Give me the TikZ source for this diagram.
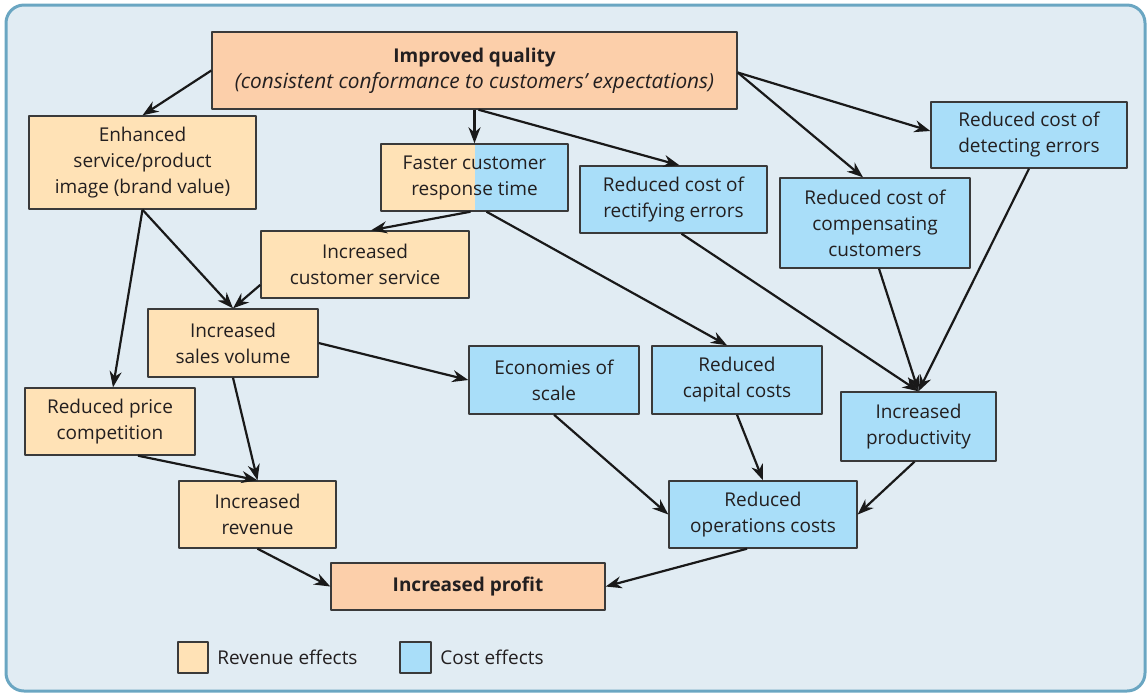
\documentclass[tikz,border=0pt]{standalone}
\usepackage{fontspec}
\setmainfont{Open Sans}
\usetikzlibrary{arrows.meta}
\definecolor{framefill}{HTML}{E1ECF3}
\definecolor{frameline}{HTML}{6AA6C2}
\definecolor{keyfill}{HTML}{FCCFAA}
\definecolor{revfill}{HTML}{FFE2B6}
\definecolor{costfill}{HTML}{A9DEF9}
\definecolor{boxline}{HTML}{3A3A3A}
\definecolor{txt}{HTML}{231F20}
\tikzset{
  every picture/.style={line join=round, >={Stealth[length=8pt,width=6pt]}},
  box/.style={draw=boxline, line width=0.7pt, align=center, text=txt,
    font=\fontsize{9.5}{13}\selectfont, inner sep=0pt},
  keybox/.style={box, fill=keyfill},
  revbox/.style={box, fill=revfill},
  costbox/.style={box, fill=costfill},
  halfbox/.style={box, fill=revfill, path picture={
    \fill[costfill] (path picture bounding box.north) rectangle (path picture bounding box.south east);}},
  link/.style={->, line width=1.1pt, draw=black!90},
}
\begin{document}
\begin{tikzpicture}[x=0.5pt,y=-0.5pt]
\useasboundingbox (0,0) rectangle (1147,693);
\draw[fill=framefill, draw=frameline, line width=1.5pt, rounded corners=9pt] (6,5) rectangle (1145,691);
% boxes
\node[keybox, minimum width=262.5pt, minimum height=38.5pt] (quality) at (474.5,70.5)
  {\textbf{Improved quality}\\{\fontsize{10.4}{13}\selectfont\itshape (consistent conformance to customers' expectations)}};
\node[revbox, minimum width=113.5pt, minimum height=46.5pt] (brand) at (142.5,162.5)
  {Enhanced\\service/product\\image (brand value)};
\node[halfbox, minimum width=93.5pt, minimum height=33.5pt] (response) at (474.5,177.5)
  {Faster customer\\response time};
\node[costbox, minimum width=93.5pt, minimum height=33.5pt] (rectify) at (673.5,199.5)
  {Reduced cost of\\rectifying errors};
\node[costbox, minimum width=98pt, minimum height=33pt] (detect) at (1029,135)
  {Reduced cost of\\detecting errors};
\node[costbox, minimum width=95pt, minimum height=45pt] (compensate) at (875,223)
  {Reduced cost of\\compensating\\customers};
\node[revbox, minimum width=104pt, minimum height=33.5pt] (service) at (365,264.5)
  {Increased\\customer service};
\node[revbox, minimum width=85pt, minimum height=34pt] (sales) at (233,343)
  {Increased\\sales volume};
\node[costbox, minimum width=85pt, minimum height=34pt] (scale) at (554,380)
  {Economies of\\scale};
\node[costbox, minimum width=85pt, minimum height=34pt] (capital) at (737,380)
  {Reduced\\capital costs};
\node[costbox, minimum width=77.5pt, minimum height=34.5pt] (productivity) at (918.5,426.5)
  {Increased\\productivity};
\node[revbox, minimum width=85pt, minimum height=33.5pt] (price) at (110,421.5)
  {Reduced price\\competition};
\node[revbox, minimum width=78.5pt, minimum height=33.5pt] (revenue) at (257.5,514.5)
  {Increased\\revenue};
\node[costbox, minimum width=94pt, minimum height=33.5pt] (operations) at (763,514.5)
  {Reduced\\operations costs};
\node[keybox, minimum width=137pt, minimum height=23.5pt] (profit) at (468,586.5)
  {\textbf{Increased profit}};
% links
\draw[link] (quality.west) -- (brand.north);
\draw[link] (quality.south) -- (response.north);
\draw[link] ([xshift=2pt]quality.south) -- ([xshift=3pt]rectify.north);
\draw[link] ([yshift=-1pt]quality.east) -- ([xshift=-6pt]compensate.north);
\draw[link] ([yshift=-1pt]quality.east) -- ([yshift=2pt]detect.west);
\draw[link] (brand.south) -- (sales.north);
\draw[link] (brand.south) -- ([xshift=1.5pt]price.north);
\draw[link] ([xshift=-2pt]response.south) -- ([xshift=3pt]service.north);
\draw[link] ([xshift=6pt]response.south) -- ([xshift=-5pt]capital.north);
\draw[link] (service.191) -- (sales.north);
\draw[link] (sales.east) -- (scale.west);
\draw[link] (sales.south) -- (revenue.north);
\draw[link] ([xshift=14pt]price.south) -- (revenue.north);
\draw[link] ([xshift=4pt]rectify.south) -- (productivity.north);
\draw[link] ([xshift=2pt]compensate.south) -- (productivity.north);
\draw[link] (detect.south) -- (productivity.north);
\draw[link] (scale.south) -- (operations.west);
\draw[link] (capital.south) -- (operations.north);
\draw[link] ([xshift=-2pt]productivity.south) -- (operations.east);
\draw[link] (revenue.south) -- (profit.west);
\draw[link] ([xshift=-8pt]operations.south) -- (profit.east);
% legend
\node[revbox, minimum width=15pt, minimum height=15.5pt] (revkey) at (193,657.5) {};
\node[anchor=west, text=txt, font=\fontsize{9.5}{13}\selectfont, inner sep=0pt] (revlabel) at (217,657.5) {Revenue effects};
\node[costbox, minimum width=15.5pt, minimum height=15.5pt] (costkey) at (415.5,657.5) {};
\node[anchor=west, text=txt, font=\fontsize{9.5}{13}\selectfont, inner sep=0pt] (costlabel) at (440,657.5) {Cost effects};
\end{tikzpicture}
\end{document}
